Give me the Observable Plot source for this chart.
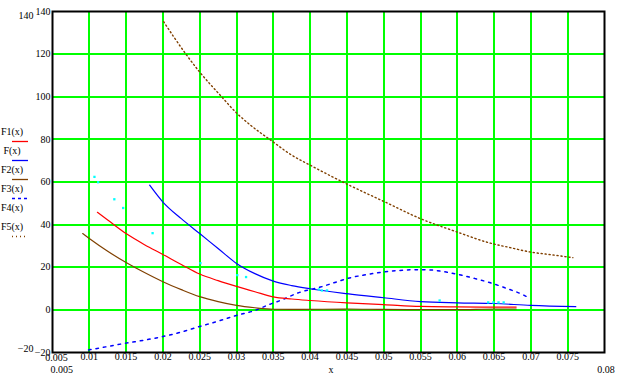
<!DOCTYPE html>
<html>
<head>
<meta charset="utf-8">
<script src="https://cdn.jsdelivr.net/npm/d3@7"></script>
<script src="https://cdn.jsdelivr.net/npm/@observablehq/plot@0.6"></script>
<style>
  html, body { margin: 0; padding: 0; background: #fff; }
  #chart { width: 623px; height: 378px; }
</style>
</head>
<body>
<div id="chart"></div>
<script>
// ---- data ----
const xTicks = [0.005,0.01,0.015,0.02,0.025,0.03,0.035,0.04,0.045,0.05,0.055,0.06,0.065,0.07,0.075];
const xTickLabels = ["0.005","0.01","0.015","0.02","0.025","0.03","0.035","0.04","0.045","0.05","0.055","0.06","0.065","0.07","0.075"];
const yTicks = [140,120,100,80,60,40,20,0,-20];
const yTickLabels = ["140","120","100","80","60","40","20","0","\u221220"];
const xGrid = [0.01,0.015,0.02,0.025,0.03,0.035,0.04,0.045,0.05,0.055,0.06,0.065,0.07,0.075];
const yGrid = [0,20,40,60,80,100,120];

// F1 (red)
const f1X = [0.0111,0.0125,0.015,0.0175,0.02,0.0225,0.025,0.0275,0.03,0.0325,0.035,0.0375,0.04,0.045,0.05,0.055,0.06,0.065,0.068];
const f1Y = [45.8,42.2,35.8,30.6,26.0,21.3,16.8,13.7,11.0,8.5,6.1,5.1,4.4,3.3,2.5,1.6,1.4,1.3,1.3];
// F (blue)
const fX = [0.0182,0.02,0.0225,0.025,0.0275,0.03,0.0325,0.035,0.0375,0.04,0.045,0.05,0.055,0.06,0.065,0.07,0.0761];
const fY = [58.5,50.6,42.8,35.8,28.8,21.8,17.0,13.5,11.4,9.9,7.6,5.7,3.9,3.3,3.0,2.1,1.5];
// F2 (brown)
const f2X = [0.0091,0.01,0.0125,0.015,0.0175,0.02,0.0225,0.025,0.0275,0.03,0.0325,0.035,0.0385,0.045,0.05,0.055,0.06,0.065,0.068];
const f2Y = [35.8,33.5,27.5,22.2,17.5,13.2,9.5,6.2,3.9,2.1,1.0,0.3,0.2,0.4,0.2,0.1,0.1,0.4,0.4];
// F3 (blue dashed)
const f3X = [0.0099,0.0125,0.015,0.0175,0.02,0.0225,0.025,0.0275,0.03,0.0325,0.0345,0.0362,0.0383,0.0414,0.0435,0.0455,0.0476,0.0498,0.0518,0.0539,0.0559,0.0582,0.0603,0.0625,0.0645,0.0666,0.0686,0.0697];
const f3Y = [-18.8,-17.2,-15.6,-14.2,-12.5,-10.4,-7.8,-5.3,-2.6,-0.3,2.6,4.7,7.9,10.7,13.0,15.1,16.5,17.7,18.4,18.8,18.8,17.9,16.5,14.6,12.7,10.2,7.6,5.7];
// F4 (cyan points)
const f4X = [0.0107,0.0112,0.0134,0.0146,0.0186,0.0251,0.0301,0.0313,0.0412,0.0416,0.0423,0.0576,0.0642,0.0649,0.0656,0.0663];
const f4Y = [62.4,59.9,51.9,47.8,36.0,21.9,16.3,15.4,9.6,9.1,9.1,4.4,3.5,3.5,3.5,3.5];
// F5 (brown dotted)
const f5X = [0.0201,0.023,0.0249,0.0279,0.030,0.0319,0.0349,0.0375,0.04,0.0446,0.05,0.055,0.06,0.0643,0.0672,0.070,0.0727,0.0757];
const f5Y = [135.2,120.6,112.0,100.3,92.4,86.7,79.0,72.6,67.9,59.7,50.9,42.8,36.5,31.5,29.2,27.1,25.9,24.5];

const legendLabels = ["F1(x)","F(x)","F2(x)","F3(x)","F4(x)","F5(x)"];
const legendColors = ["#ff0000","#0000ff","#804000","#0000ff",null,"#804000"];
const legendDash = [null,null,null,"3,3",null,"1,3"];

// ---- build ----
const pts = (xs, ys) => xs.map((x, i) => ({x, y: ys[i]}));
const GREEN = "#00ff00";
const BROWN = "#804000";
const font = "'Liberation Serif', 'Times New Roman', serif";
const curve = "monotone-x";

const chart = Plot.plot({
  width: 623,
  height: 378,
  marginLeft: 52,
  marginRight: 19,
  marginTop: 11,
  marginBottom: 26,
  x: {domain: [0.005, 0.08], axis: null},
  y: {domain: [-20, 140], axis: null},
  style: {fontFamily: font, fontSize: "10px", background: "#fff", color: "#000", overflow: "visible"},
  marks: [
    Plot.ruleX(xGrid, {x: d => d, stroke: GREEN, strokeWidth: 2, shapeRendering: "crispEdges"}),
    Plot.ruleY(yGrid, {y: d => d, stroke: GREEN, strokeWidth: 2, shapeRendering: "crispEdges"}),
    Plot.line(pts(f5X, f5Y), {x: "x", y: "y", curve, stroke: BROWN, strokeWidth: 1.4, strokeDasharray: "1.2,2.8"}),
    Plot.line(pts(f3X, f3Y), {x: "x", y: "y", curve, stroke: "#0000ff", strokeWidth: 1.5, strokeDasharray: "2.5,5"}),
    Plot.line(pts(f2X, f2Y), {x: "x", y: "y", curve, stroke: BROWN, strokeWidth: 1.2}),
    Plot.line(pts(f1X, f1Y), {x: "x", y: "y", curve, stroke: "#ff0000", strokeWidth: 1.2}),
    Plot.line(pts(fX, fY), {x: "x", y: "y", curve, stroke: "#0000ff", strokeWidth: 1.2}),
    Plot.dot(pts(f4X, f4Y), {x: "x", y: "y", symbol: "square", r: 1.3, fill: "#00ffff", stroke: null}),
    Plot.frame({stroke: "#000", strokeWidth: 2}),
    // tick labels
    Plot.text(xTicks.slice(1), {x: d => d, text: (d, i) => xTickLabels[i + 1], frameAnchor: "bottom", dy: 7, fill: "#000"}),
    Plot.text(xTicks.slice(0, 1), {x: d => d, text: () => xTickLabels[0], frameAnchor: "bottom", dx: 4, dy: 8, fill: "#000"}),
    Plot.text(yTicks, {y: d => d, text: (d, i) => yTickLabels[i], frameAnchor: "left", textAnchor: "end", dx: -2, fill: "#000"}),
    // limit annotations (Mathcad style)
    Plot.text([140], {y: d => d, text: d => String(d), frameAnchor: "left", textAnchor: "end", dx: -19, dy: 4.5, fill: "#000"}),
    Plot.text([-20], {y: d => d, text: d => "\u2212" + Math.abs(d), frameAnchor: "left", textAnchor: "end", dx: -19, dy: -3.7, fill: "#000"}),
    Plot.text([0.005], {x: d => d, text: d => "0.005", frameAnchor: "bottom", textAnchor: "start", dx: -2, dy: 20, fill: "#000"}),
    Plot.text([0.08], {x: d => d, text: d => "0.08", frameAnchor: "bottom", dx: 1.5, dy: 20, fill: "#000"}),
    Plot.text(["x"], {x: () => 0.0425, text: d => d, frameAnchor: "bottom", dx: 2.5, dy: 20, fill: "#000"})
  ]
});

document.getElementById("chart").appendChild(chart);

// ---- legend (left side, Mathcad style) ----
const svg = d3.select(chart);
const lg = svg.append("g").attr("font-family", font).attr("font-size", "10px");
legendLabels.forEach((lab, i) => {
  const ty = 132 + i * 19;
  lg.append("text").attr("x", 12).attr("y", ty).attr("dy", "0.32em").attr("fill", "#000").text(lab);
  if (legendColors[i]) {
    const l = lg.append("line").attr("x1", 12).attr("x2", 28).attr("y1", ty + 9.5).attr("y2", ty + 9.5)
      .attr("stroke", legendColors[i]).attr("stroke-width", 1.3);
    if (legendDash[i]) l.attr("stroke-dasharray", legendDash[i]);
  }
});
</script>
</body>
</html>
